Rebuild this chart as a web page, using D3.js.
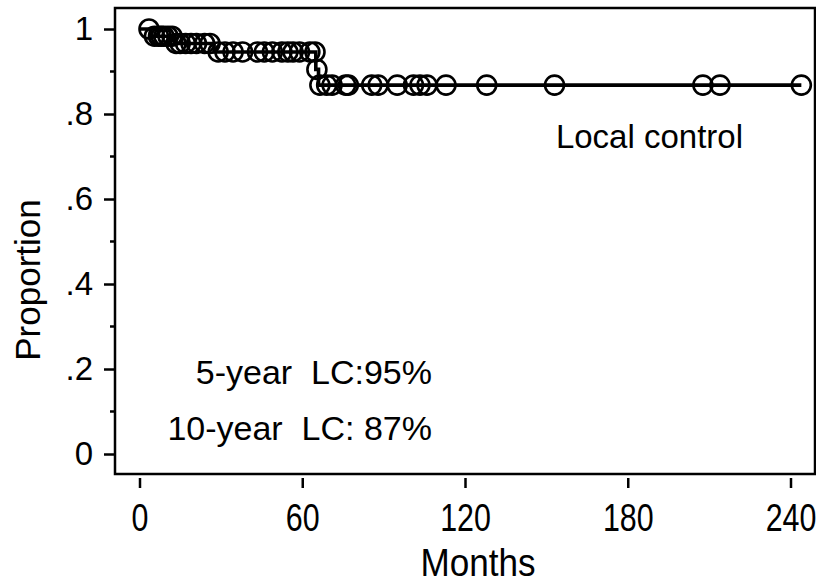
<!DOCTYPE html>
<html>
<head>
<meta charset="utf-8">
<script src="https://cdn.jsdelivr.net/npm/d3@7/dist/d3.min.js"></script>
<style>
  html, body { margin: 0; padding: 0; background: #fff; }
  svg { display: block; }
  text { font-family: "Liberation Sans", Arial, Helvetica, sans-serif; fill: #000; }
</style>
</head>
<body>
<svg id="chart" width="816" height="583"></svg>
<script>
// Kaplan–Meier estimate of local control
const stepTimes = [0, 4, 13, 27.5, 65, 66];
const stepSurv  = [1, 0.983, 0.966, 0.946, 0.905, 0.868];

// censored follow-up times (months)
const censorTimes = [
  3.5,
  5.5, 7, 8, 9, 10.5, 12,
  13.5, 15, 17, 19, 21, 24, 26,
  29, 31.5, 34.5, 38, 43.5, 46, 49, 52.5, 54.7, 56.6, 59, 62.8, 64.7,
  65.4,
  66.5, 69, 71, 76, 77, 85.6, 88, 95, 101, 103.4, 106, 113, 128, 153, 207.7, 214, 244
];

const xTicks = [0, 60, 120, 180, 240];
const yTicks = [0, 0.2, 0.4, 0.6, 0.8, 1];
const yTickLabels = ["0", ".2", ".4", ".6", ".8", "1"];
const yMinorTicks = [0.1, 0.3, 0.5, 0.7, 0.9];

const annotations = ["5-year  LC:95%", "10-year  LC: 87%"];
const curveLabel = "Local control";

const svg = d3.select("#chart");
const box = { left: 115, right: 815, top: 8, bottom: 474 };

const x = d3.scaleLinear().domain([0, 240]).range([139.5, 790.5]);
const y = d3.scaleLinear().domain([0, 1]).range([454, 29]);

// survival value in effect at time t
function survAt(t) {
  let s = stepSurv[0];
  for (let i = 0; i < stepTimes.length; i++) if (stepTimes[i] <= t) s = stepSurv[i];
  return s;
}

// frame
svg.append("rect")
  .attr("x", box.left).attr("y", box.top)
  .attr("width", box.right - box.left).attr("height", box.bottom - box.top)
  .attr("fill", "none").attr("stroke", "#000").attr("stroke-width", 2.5);

// y axis (outside the frame, to the left)
const yAxis = svg.append("g").attr("transform", `translate(${box.left},0)`);
yAxis.call(d3.axisLeft(y).tickValues(yTicks).tickSize(11)
    .tickFormat((d, i) => yTickLabels[i]).tickPadding(11))
  .call(g => g.select(".domain").remove());
yAxis.selectAll(".tick line").attr("stroke", "#000").attr("stroke-width", 2.5);
yAxis.selectAll(".tick text").attr("font-size", 33)
  .attr("font-family", "Liberation Sans, Arial, sans-serif").attr("fill", "#000");
yAxis.selectAll(".minor").data(yMinorTicks).enter().append("line")
  .attr("class", "minor")
  .attr("x1", -5).attr("x2", 0)
  .attr("y1", d => y(d)).attr("y2", d => y(d))
  .attr("stroke", "#000").attr("stroke-width", 2.5);

// x axis (below the frame)
const xAxis = svg.append("g").attr("transform", `translate(0,${box.bottom})`);
xAxis.call(d3.axisBottom(x).tickValues(xTicks).tickSize(14).tickPadding(0).tickFormat(d3.format("d")))
  .call(g => g.select(".domain").remove());
xAxis.selectAll(".tick line").attr("stroke", "#000").attr("stroke-width", 2.5).attr("y1", 4);
xAxis.selectAll(".tick text").text(null);
xAxis.selectAll(".tick").append("text")
  .attr("transform", "translate(0,57) scale(0.8,1)")
  .attr("text-anchor", "middle")
  .attr("font-size", 38)
  .attr("font-family", "Liberation Sans, Arial, sans-serif")
  .attr("fill", "#000")
  .text(d => d);

// axis titles
svg.append("text")
  .attr("transform", `translate(${(box.left + box.right) / 2 + 13},576) scale(0.9,1)`)
  .attr("text-anchor", "middle").attr("font-size", 39).text("Months");
svg.append("text")
  .attr("transform", "translate(40,280) rotate(-90)")
  .attr("text-anchor", "middle").attr("font-size", 35).text("Proportion");

// step curve
const stepData = stepTimes.map((t, i) => [t, stepSurv[i]]);
stepData.push([d3.max(censorTimes), stepSurv[stepSurv.length - 1]]);
const line = d3.line().x(d => x(d[0])).y(d => y(d[1])).curve(d3.curveStepAfter);
svg.append("path").datum(stepData)
  .attr("d", line).attr("fill", "none").attr("stroke", "#000").attr("stroke-width", 3.6);

// censoring marks
svg.selectAll(".censor").data(censorTimes).enter().append("circle")
  .attr("class", "censor")
  .attr("cx", d => x(d)).attr("cy", d => y(survAt(d)))
  .attr("r", 9.5)
  .attr("fill", "none").attr("stroke", "#000").attr("stroke-width", 2.6);

// labels
svg.append("text").attr("x", 743).attr("y", 148)
  .attr("text-anchor", "end").attr("font-size", 33).text(curveLabel);
svg.selectAll(".ann").data(annotations).enter().append("text")
  .attr("class", "ann")
  .attr("x", 432).attr("y", (d, i) => 384 + i * 56)
  .attr("text-anchor", "end").attr("font-size", 34)
  .style("white-space", "pre").attr("xml:space", "preserve")
  .text(d => d);
</script>
</body>
</html>
